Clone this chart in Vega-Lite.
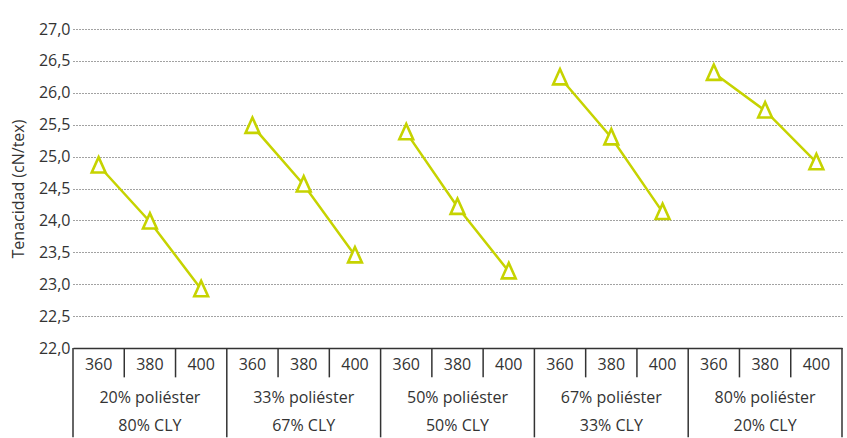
{
  "$schema": "https://vega.github.io/schema/vega-lite/v6.json",
  "width": 769,
  "height": 319,
  "autosize": {"type": "none"},
  "padding": {"left": 73, "top": 29, "right": 5, "bottom": 90},
  "config": {
    "view": {"stroke": null},
    "font": "Open Sans",
    "axisY": {
      "domain": false, "ticks": false, "grid": true,
      "gridDash": [1, 2], "gridColor": "#444", "gridWidth": 1,
      "labelFontSize": 16, "labelColor": "#333", "labelPadding": 3,
      "labelOverlap": false,
      "titleFontSize": 16, "titleFontWeight": "normal", "titleColor": "#333", "titlePadding": 12
    }
  },
  "data": {
    "values": [
      {"key": "1|360", "g": "1", "speed": 360, "g1": "20% poliéster", "g2": "80% CLY", "v": 24.86},
      {"key": "1|380", "g": "1", "speed": 380, "g1": "20% poliéster", "g2": "80% CLY", "v": 23.98},
      {"key": "1|400", "g": "1", "speed": 400, "g1": "20% poliéster", "g2": "80% CLY", "v": 22.92},
      {"key": "2|360", "g": "2", "speed": 360, "g1": "33% poliéster", "g2": "67% CLY", "v": 25.48},
      {"key": "2|380", "g": "2", "speed": 380, "g1": "33% poliéster", "g2": "67% CLY", "v": 24.56},
      {"key": "2|400", "g": "2", "speed": 400, "g1": "33% poliéster", "g2": "67% CLY", "v": 23.45},
      {"key": "3|360", "g": "3", "speed": 360, "g1": "50% poliéster", "g2": "50% CLY", "v": 25.38},
      {"key": "3|380", "g": "3", "speed": 380, "g1": "50% poliéster", "g2": "50% CLY", "v": 24.21},
      {"key": "3|400", "g": "3", "speed": 400, "g1": "50% poliéster", "g2": "50% CLY", "v": 23.2},
      {"key": "4|360", "g": "4", "speed": 360, "g1": "67% poliéster", "g2": "33% CLY", "v": 26.24},
      {"key": "4|380", "g": "4", "speed": 380, "g1": "67% poliéster", "g2": "33% CLY", "v": 25.3},
      {"key": "4|400", "g": "4", "speed": 400, "g1": "67% poliéster", "g2": "33% CLY", "v": 24.13},
      {"key": "5|360", "g": "5", "speed": 360, "g1": "80% poliéster", "g2": "20% CLY", "v": 26.31},
      {"key": "5|380", "g": "5", "speed": 380, "g1": "80% poliéster", "g2": "20% CLY", "v": 25.72},
      {"key": "5|400", "g": "5", "speed": 400, "g1": "80% poliéster", "g2": "20% CLY", "v": 24.91}
    ]
  },
  "layer": [
    {
      "mark": {"type": "line", "color": "#c6d300", "strokeWidth": 2.5},
      "encoding": {
        "x": {
          "field": "key", "type": "nominal",
          "scale": {"paddingInner": 0, "paddingOuter": 0},
          "sort": ["1|360","1|380","1|400","2|360","2|380","2|400","3|360","3|380","3|400","4|360","4|380","4|400","5|360","5|380","5|400"],
          "axis": {
            "title": null, "labelAngle": 0, "ticks": false, "grid": false,
            "domainColor": "#333", "domainWidth": 1.5,
            "labelExpr": "split(datum.value, '|')[1]",
            "labelFontSize": 16, "labelColor": "#333", "labelPadding": 8
          }
        },
        "y": {
          "field": "v", "type": "quantitative",
          "scale": {"domain": [22, 27], "nice": false, "zero": false},
          "axis": {
            "values": [22, 22.5, 23, 23.5, 24, 24.5, 25, 25.5, 26, 26.5, 27],
            "labelExpr": "replace(format(datum.value, '.1f'), '.', ',')",
            "title": "Tenacidad (cN/tex)"
          }
        },
        "detail": {"field": "g", "type": "nominal"}
      }
    },
    {
      "mark": {"type": "point", "shape": "M0,-1.1L-0.9,0.9L0.9,0.9Z", "size": 235, "fill": "white", "stroke": "#c6d300", "strokeWidth": 2.6, "opacity": 1, "fillOpacity": 1},
      "encoding": {
        "x": {"field": "key", "type": "nominal"},
        "y": {
          "field": "v", "type": "quantitative",
          "axis": {
            "values": [22, 22.5, 23, 23.5, 24, 24.5, 25, 25.5, 26, 26.5, 27],
            "labelExpr": "replace(format(datum.value, '.1f'), '.', ',')",
            "title": "Tenacidad (cN/tex)"
          }
        }
      }
    },
    {
      "transform": [{"filter": "datum.speed != 360"}],
      "mark": {"type": "rule", "color": "#333", "strokeWidth": 1.5},
      "encoding": {
        "x": {"field": "key", "type": "nominal", "bandPosition": 0},
        "y": {"datum": 22, "type": "quantitative", "axis": {
            "values": [22, 22.5, 23, 23.5, 24, 24.5, 25, 25.5, 26, 26.5, 27],
            "labelExpr": "replace(format(datum.value, '.1f'), '.', ',')",
            "title": "Tenacidad (cN/tex)"
          }},
        "y2": {"datum": 21.54}
      }
    },
    {
      "transform": [{"filter": "datum.speed == 360"}],
      "mark": {"type": "rule", "color": "#333", "strokeWidth": 1.5},
      "encoding": {
        "x": {"field": "key", "type": "nominal", "bandPosition": 0},
        "y": {"datum": 22, "type": "quantitative", "axis": {
            "values": [22, 22.5, 23, 23.5, 24, 24.5, 25, 25.5, 26, 26.5, 27],
            "labelExpr": "replace(format(datum.value, '.1f'), '.', ',')",
            "title": "Tenacidad (cN/tex)"
          }},
        "y2": {"datum": 20.6}
      }
    },
    {
      "transform": [{"filter": "datum.key == '5|400'"}],
      "mark": {"type": "rule", "color": "#333", "strokeWidth": 1.5},
      "encoding": {
        "x": {"field": "key", "type": "nominal", "bandPosition": 1},
        "y": {"datum": 22, "type": "quantitative", "axis": {
            "values": [22, 22.5, 23, 23.5, 24, 24.5, 25, 25.5, 26, 26.5, 27],
            "labelExpr": "replace(format(datum.value, '.1f'), '.', ',')",
            "title": "Tenacidad (cN/tex)"
          }},
        "y2": {"datum": 20.6}
      }
    },
    {
      "transform": [{"filter": "datum.speed == 380"}],
      "mark": {"type": "text", "fontSize": 16, "color": "#333", "baseline": "middle"},
      "encoding": {
        "x": {"field": "key", "type": "nominal"},
        "y": {"datum": 21.22, "type": "quantitative", "axis": {
            "values": [22, 22.5, 23, 23.5, 24, 24.5, 25, 25.5, 26, 26.5, 27],
            "labelExpr": "replace(format(datum.value, '.1f'), '.', ',')",
            "title": "Tenacidad (cN/tex)"
          }},
        "text": {"field": "g1"}
      }
    },
    {
      "transform": [{"filter": "datum.speed == 380"}],
      "mark": {"type": "text", "fontSize": 16, "color": "#333", "baseline": "middle"},
      "encoding": {
        "x": {"field": "key", "type": "nominal"},
        "y": {"datum": 20.78, "type": "quantitative", "axis": {
            "values": [22, 22.5, 23, 23.5, 24, 24.5, 25, 25.5, 26, 26.5, 27],
            "labelExpr": "replace(format(datum.value, '.1f'), '.', ',')",
            "title": "Tenacidad (cN/tex)"
          }},
        "text": {"field": "g2"}
      }
    }
  ]
}
